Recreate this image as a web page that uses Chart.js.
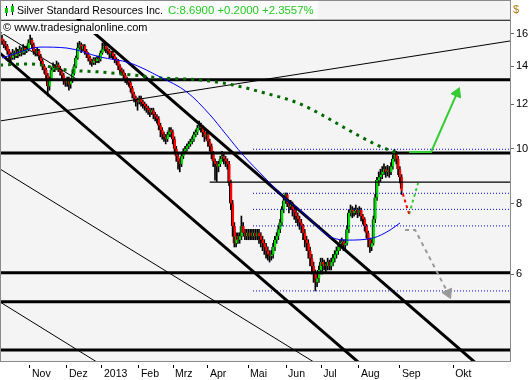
<!DOCTYPE html>
<html><head><meta charset="utf-8">
<script src="https://cdn.jsdelivr.net/npm/chart.js@4"></script>
<style>
html,body{margin:0;padding:0;background:#fff;}
#wrap{position:relative;width:529px;height:380px;overflow:hidden;font-family:"Liberation Sans",Arial,sans-serif;}
canvas{position:absolute;left:0;top:0;}
.box{position:absolute;background:#fbfbfb;}
.t{position:absolute;font-size:11px;line-height:13px;white-space:nowrap;color:#000;}
</style></head>
<body>
<div id="wrap">
<canvas id="c" width="529" height="380"></canvas>
<div class="box" style="left:2px;top:1px;width:316px;height:18px;"></div>
<div class="box" style="left:2px;top:21px;width:147px;height:13px;"></div>
<div style="position:absolute;left:6px;top:6px;width:1px;height:10px;background:#000"></div>
<div style="position:absolute;left:5px;top:8px;width:3px;height:5px;background:#00cc00;"></div>
<div style="position:absolute;left:12px;top:4px;width:1px;height:11px;background:#000"></div>
<div style="position:absolute;left:11px;top:6px;width:3px;height:6px;background:#00cc00;"></div>
<div class="t" style="left:17px;top:4px;font-size:10.6px;">Silver Standard Resources Inc.</div>
<div class="t" style="left:168px;top:4px;color:#22cc22;font-size:11.4px;">C:8.6900 +0.2000 +2.3557%</div>
<div class="t" style="left:3px;top:21px;">© www.tradesignalonline.com</div>
<div class="t" style="left:513px;top:3px;color:#b07a10;">$</div>
</div>
<script>
// ---------- DATA ----------
const months = ['Nov','Dez','2013','Feb','Mrz','Apr','Mai','Jun','Jul','Aug','Sep','Okt'];
const monthPos = [15.9,36.9,56.8,77.8,97.2,117.0,139.8,161.4,181.3,202.8,226.1,256.3];
const priceTicks = [6,8,10,12,14,16];

const opens = [15.7,15.5,15.3,15.2,14.9,14.7,14.5,14.8,14.6,14.9,
14.7,15.0,14.8,15.1,14.9,15.0,15.4,15.6,15.3,14.9,
14.8,14.9,14.6,14.3,14.0,13.8,13.5,12.9,13.3,13.8,
14.0,13.9,14.1,13.9,13.7,13.5,13.2,13.1,13.3,13.0,
13.2,13.6,14.0,14.5,15.1,15.3,15.0,15.2,14.9,14.7,
14.5,14.3,14.2,14.4,14.3,14.5,14.4,14.8,15.0,15.2,
15.0,14.9,14.7,14.8,14.6,14.4,14.3,14.0,13.8,13.7,
13.5,13.3,13.2,13.1,12.8,12.5,12.3,12.2,12.1,12.3,
12.1,12.0,11.9,11.8,11.7,11.6,11.7,11.5,11.4,11.3,
11.0,10.8,10.6,10.5,10.4,10.6,10.8,10.7,10.4,10.0,
9.7,9.5,9.4,9.7,9.9,10.0,10.1,10.2,10.3,10.4,
10.6,10.7,10.9,11.0,10.9,10.7,10.5,10.6,10.3,10.1,
9.8,9.5,9.4,9.3,9.4,9.6,9.7,9.6,9.5,9.4,
8.7,8.0,7.3,6.8,7.0,6.9,7.0,7.3,7.1,7.0,
7.1,7.0,7.1,7.0,7.1,7.0,7.1,7.0,6.9,6.8,
6.7,6.6,6.5,6.45,6.5,6.7,6.9,7.0,7.2,7.4,
7.8,8.1,8.3,8.0,7.9,8.0,7.8,7.7,7.6,7.5,
7.4,7.3,7.1,6.9,6.8,6.6,6.4,6.2,6.0,5.8,
5.9,6.1,6.3,6.2,6.25,6.2,6.3,6.2,6.3,6.4,
6.5,6.6,6.7,6.8,6.85,6.75,6.8,7.2,7.7,7.8,
7.7,7.75,7.8,7.7,7.8,7.6,7.5,7.3,7.1,6.9,
6.7,6.8,7.5,8.2,8.8,8.9,9.0,9.1,9.2,9.1,
9.15,9.1,9.3,9.6,9.8,9.6,9.2,8.9];

const closes = [15.5,15.3,15.2,14.9,14.7,14.5,14.8,14.6,14.9,14.7,
15.0,14.8,15.1,14.9,15.0,15.4,15.6,15.3,14.9,14.8,
14.9,14.6,14.3,14.0,13.8,13.5,12.9,13.3,13.8,14.0,
13.9,14.1,13.9,13.7,13.5,13.2,13.1,13.3,13.0,13.2,
13.6,14.0,14.5,15.1,15.3,15.0,15.2,14.9,14.7,14.5,
14.3,14.2,14.4,14.3,14.5,14.4,14.8,15.0,15.2,15.0,
14.9,14.7,14.8,14.6,14.4,14.3,14.0,13.8,13.7,13.5,
13.3,13.2,13.1,12.8,12.5,12.3,12.2,12.1,12.3,12.1,
12.0,11.9,11.8,11.7,11.6,11.7,11.5,11.4,11.3,11.0,
10.8,10.6,10.5,10.4,10.6,10.8,10.7,10.4,10.0,9.7,
9.5,9.4,9.7,9.9,10.0,10.1,10.2,10.3,10.4,10.6,
10.7,10.9,11.0,10.9,10.7,10.5,10.6,10.3,10.1,9.8,
9.5,9.4,9.3,9.4,9.6,9.7,9.6,9.5,9.4,8.7,
8.0,7.3,6.8,7.0,6.9,7.0,7.3,7.1,7.0,7.1,
7.0,7.1,7.0,7.1,7.0,7.1,7.0,6.9,6.8,6.7,
6.6,6.5,6.45,6.5,6.7,6.9,7.0,7.2,7.4,7.8,
8.1,8.3,8.0,7.9,8.0,7.8,7.7,7.6,7.5,7.4,
7.3,7.1,6.9,6.8,6.6,6.4,6.2,6.0,5.8,5.9,
6.1,6.3,6.2,6.25,6.2,6.3,6.2,6.3,6.4,6.5,
6.6,6.7,6.8,6.85,6.75,6.8,7.2,7.7,7.8,7.7,
7.75,7.8,7.7,7.8,7.6,7.5,7.3,7.1,6.9,6.7,
6.8,7.5,8.2,8.8,8.9,9.0,9.1,9.2,9.1,9.15,
9.1,9.3,9.6,9.8,9.6,9.2,8.9,8.5];

const highs = [15.9,15.6,15.5,15.3,15.0,14.8,15.0,14.9,15.1,15.0,
15.2,15.1,15.3,15.2,15.2,15.6,15.9,15.7,15.4,15.0,
15.1,15.0,14.7,14.4,14.1,13.9,13.6,13.4,13.9,14.2,
14.1,14.3,14.2,14.0,13.8,13.6,13.3,13.4,13.4,13.3,
13.7,14.1,14.6,15.4,15.5,15.4,15.3,15.3,15.0,14.8,
14.6,14.4,14.5,14.5,14.6,14.6,14.9,15.4,15.4,15.3,
15.1,15.0,14.9,14.9,14.7,14.5,14.4,14.1,13.9,13.8,
13.6,13.4,13.3,13.2,12.9,12.6,12.4,12.3,12.4,12.4,
12.2,12.1,12.0,11.9,11.8,11.8,11.8,11.6,11.5,11.4,
11.1,10.9,10.7,10.6,10.7,10.9,10.9,10.8,10.5,10.1,
9.8,9.6,9.8,10.0,10.1,10.2,10.3,10.4,10.5,10.7,
10.8,11.0,11.2,11.1,11.0,10.8,10.7,10.7,10.4,10.2,
9.9,9.6,9.5,9.5,9.7,9.9,9.8,9.7,9.6,9.5,
8.8,8.1,7.4,7.1,7.1,7.1,7.6,7.4,7.2,7.2,
7.2,7.2,7.2,7.2,7.2,7.2,7.2,7.1,7.0,6.9,
6.8,6.7,6.6,6.6,6.8,7.0,7.1,7.3,7.5,7.9,
8.2,8.35,8.35,8.1,8.1,8.05,7.9,7.8,7.7,7.6,
7.5,7.35,7.2,7.0,6.9,6.7,6.5,6.3,6.1,6.0,
6.2,6.4,6.4,6.35,6.3,6.4,6.35,6.4,6.5,6.6,
6.7,6.8,6.9,6.95,6.9,6.9,7.3,7.8,7.95,7.9,
7.85,7.95,7.85,7.9,7.85,7.65,7.55,7.35,7.15,6.95,
6.9,7.6,8.3,8.9,9.1,9.2,9.3,9.4,9.3,9.35,
9.3,9.45,9.75,9.97,9.9,9.7,9.3,9.0];

const lows = [15.3,15.1,15.0,14.7,14.4,14.2,14.4,14.4,14.5,14.5,
14.6,14.6,14.7,14.7,14.8,14.9,15.3,15.1,14.7,14.6,
14.6,14.4,14.1,13.8,13.6,13.3,12.4,12.7,13.2,13.7,
13.7,13.8,13.7,13.5,13.3,13.0,12.9,12.9,12.7,12.8,
13.1,13.5,13.9,14.4,15.0,14.8,14.9,14.7,14.5,14.3,
14.1,14.0,14.1,14.1,14.2,14.2,14.3,14.7,14.9,14.8,
14.7,14.5,14.5,14.4,14.2,14.1,13.8,13.6,13.5,13.3,
13.1,13.0,12.9,12.6,12.3,12.1,11.9,11.7,12.0,11.9,
11.8,11.7,11.6,11.5,11.4,11.5,11.3,11.2,11.1,10.8,
10.5,10.4,10.3,10.2,10.3,10.5,10.5,10.2,9.8,9.5,
9.2,9.1,9.3,9.6,9.8,9.9,10.0,10.1,10.2,10.3,
10.5,10.6,10.8,10.7,10.5,10.3,10.4,10.1,9.9,9.6,
9.3,8.8,8.75,9.1,9.3,9.5,9.4,9.3,9.2,8.6,
7.8,7.0,6.7,6.7,6.8,6.8,6.9,7.0,6.9,6.9,
6.9,6.9,6.9,6.9,6.9,6.9,6.8,6.7,6.6,6.5,
6.4,6.35,6.3,6.35,6.4,6.6,6.8,6.9,7.1,7.3,
7.7,8.0,7.9,7.7,7.8,7.6,7.5,7.4,7.3,7.2,
7.1,6.9,6.7,6.6,6.4,6.2,6.0,5.8,5.6,5.7,
5.8,6.0,6.0,6.1,6.05,6.1,6.1,6.1,6.2,6.3,
6.4,6.5,6.6,6.7,6.6,6.65,6.75,7.1,7.6,7.55,
7.6,7.65,7.55,7.6,7.45,7.35,7.15,6.95,6.7,6.55,
6.6,6.75,7.4,8.1,8.6,8.75,8.85,9.0,8.9,8.95,
8.9,9.0,9.2,9.5,9.4,9.0,8.7,8.3];

// horizontal levels (price)
const thickLevels = [13.25, 9.83, 6.03, 5.36, 4.40];
const thinTopLevel = 16.89;
const pivotLevel = 8.73, pivotStart = 118;
const dottedLevels = [9.98, 8.34, 7.81, 7.30, 5.60], dottedStart = 142.6;

// trend lines: [index, price] endpoints
const risingLine   = [[-6.8, 11.13], [294.3, 15.62]];
const channelUpper = [[24.15, 19.11], [273.6, 4.06]];
const channelMid   = [[-6.8, 15.29], [214.8, 3.88]];
const thinChanA    = [[-6.8, 9.44], [180.7, 4.126]];
const thinChanB    = [[-6.8, 5.49], [61.4, 4.053]];
const thinChanC    = [[-6.8, 16.51], [43.2, 13.24]];

// moving averages
const ma50Idx = [0,10.2,21.6,36.9,55.7,72.7,89.8,105.1,118.2,126.7,136.9,149.4,161.9,169.3,176.7,184.7,196.0,210.8,220.5,226.1];
const ma50Val = [14.48,14.84,15.14,15.08,14.54,14.19,13.40,12.60,11.48,10.66,9.75,8.88,8.11,7.79,7.42,7.03,6.89,6.95,7.18,7.39];
const ma200Idx = [-1.1,15.9,36.9,55.7,74.4,89.8,112.5,131.3,149.4,168.2,181.8,194.9,213.1,224.4];
const ma200Val = [14.07,14.13,13.79,13.68,13.51,13.35,13.24,12.97,12.55,12.05,11.48,10.88,10.15,9.83];

// scenario arrows / projections
const bullArrow = [[231.3, 9.87], [243.8, 9.87], [258.5, 12.55]];
const bearArrow = [[229.0, 7.18], [234.7, 7.18], [253.4, 5.55]];
const projDown = [[226.7, 8.52], [231.3, 7.66]];
const projUp   = [[231.3, 7.66], [236.4, 8.70]];

// ---------- CHART ----------
const pts = a => a.map(([x, y]) => ({x, y}));
const hline = (v, from, to) => [{x: from, y: v}, {x: to, y: v}];
function line(data, color, width, dash, order, extra) {
  return Object.assign({type: 'line', data, borderColor: color, borderWidth: width,
    borderDash: dash || [], pointRadius: 0, fill: false, tension: 0, order, clip: 0}, extra || {});
}
const GREEN = '#00dd00', RED = '#ff0000';
const datasets = [];
datasets.push({type: 'bar', order: 20, grouped: false, barThickness: 1,
  data: lows.map((l, i) => ({x: i, y: [l, highs[i]]})), backgroundColor: '#000', borderWidth: 0});
datasets.push({type: 'bar', order: 19, grouped: false, barThickness: 3,
  data: opens.map((o, i) => ({x: i, y: [o, closes[i]]})),
  backgroundColor: ctx => closes[ctx.dataIndex] >= opens[ctx.dataIndex] ? GREEN : RED,
  borderColor: '#000', borderWidth: {left: 1, right: 0, top: 0, bottom: 0}, borderSkipped: false});

datasets.push(line(hline(thinTopLevel, -5, 300), '#000', 1, null, 5));
thickLevels.forEach(v => datasets.push(line(hline(v, -5, 300), '#000', 3, null, 5)));
datasets.push(line(hline(pivotLevel, pivotStart, 300), '#000', 1.2, null, 5));
dottedLevels.forEach(v => datasets.push(line(hline(v, dottedStart, 300), '#0000dd', 1, [1, 2], 5)));
datasets.push(line(pts(risingLine), '#000', 1, null, 4));
datasets.push(line(pts(thinChanA), '#000', 1, null, 4));
datasets.push(line(pts(thinChanB), '#000', 1, null, 4));
datasets.push(line(pts(thinChanC), '#000', 1, null, 4));
datasets.push(line(pts(channelUpper), '#000', 3, null, 4));
datasets.push(line(pts(channelMid), '#000', 3, null, 4));
datasets.push(line(ma50Idx.map((x, i) => ({x, y: ma50Val[i]})), '#0000ff', 1, null, 3, {cubicInterpolationMode: 'monotone'}));
datasets.push(line(ma200Idx.map((x, i) => ({x, y: ma200Val[i]})), '#006a00', 3, [3, 5], 3, {cubicInterpolationMode: 'monotone'}));
datasets.push(line(pts(projDown), RED, 2, [3, 3], 2));
datasets.push(line(pts(projUp), '#33cc33', 2, [3, 3], 2));
datasets.push(line(pts(bullArrow), '#33cc33', 2, null, 1, {
  pointRadius: [0, 0, 6], pointStyle: 'triangle', pointRotation: [0, 0, 24],
  pointBackgroundColor: '#33cc33', pointBorderColor: '#33cc33', pointBorderWidth: 1}));
datasets.push(line(pts(bearArrow), '#999999', 2, [4, 4], 1, {
  pointRadius: [0, 0, 6], pointStyle: 'triangle', pointRotation: [0, 0, 155],
  pointBackgroundColor: '#999999', pointBorderColor: '#999999', pointBorderWidth: 1}));

const bgPlugin = {
  id: 'bg',
  beforeDraw(chart) {
    const {ctx, chartArea: a} = chart;
    ctx.save();
    ctx.fillStyle = '#ffffff';
    ctx.fillRect(0, 0, chart.width, chart.height);
    ctx.fillStyle = '#f4f4f4';
    ctx.fillRect(a.left, a.top, a.right - a.left, a.bottom - a.top);
    ctx.restore();
  },
  afterDraw(chart) {
    const {ctx, chartArea: a} = chart;
    ctx.save();
    ctx.strokeStyle = '#8a8a8a';
    ctx.lineWidth = 1;
    ctx.strokeRect(a.left - 0.5, a.top - 0.5, a.right - a.left + 1, a.bottom - a.top + 1);
    ctx.restore();
  }
};
const noPad = s => { s.paddingTop = 0; s.paddingBottom = 0; s.paddingLeft = 0; s.paddingRight = 0; };

new Chart(document.getElementById('c'), {
  type: 'bar',
  data: {datasets},
  options: {
    responsive: false, animation: false, devicePixelRatio: 1,
    layout: {autoPadding: false, padding: {left: 1, top: 1, right: 0, bottom: 0}},
    plugins: {legend: {display: false}, tooltip: {enabled: false}},
    scales: {
      x: {
        type: 'linear', min: -0.57, max: 288.6, offset: false,
        afterBuildTicks: s => { s.ticks = monthPos.map(v => ({value: v})); },
        afterFit: s => { s.height = 19; noPad(s); },
        ticks: {autoSkip: false, maxRotation: 0, align: 'start', padding: 0, labelOffset: 2, color: '#000',
          font: {family: 'Liberation Sans', size: 10.5},
          callback: v => { const k = monthPos.indexOf(v); return k >= 0 ? months[k] : ''; }},
        grid: {drawOnChartArea: false, drawTicks: true, tickLength: 7, color: '#000', offset: false,
          tickBorderDash: [0, 4, 3, 20], tickWidth: 1},
        border: {display: false}
      },
      y: {
        type: 'logarithmic', position: 'right', min: 4.208, max: 18.27,
        afterBuildTicks: s => { s.ticks = priceTicks.map(v => ({value: v})); },
        afterFit: s => { s.width = 19; noPad(s); },
        ticks: {autoSkip: false, padding: 2, color: '#000',
          font: {family: 'Liberation Sans', size: 11},
          callback: v => String(v)},
        grid: {drawOnChartArea: false, drawTicks: true, tickLength: 4, color: '#666', offset: false},
        border: {display: false}
      }
    }
  },
  plugins: [bgPlugin]
});
</script>
</body></html>
